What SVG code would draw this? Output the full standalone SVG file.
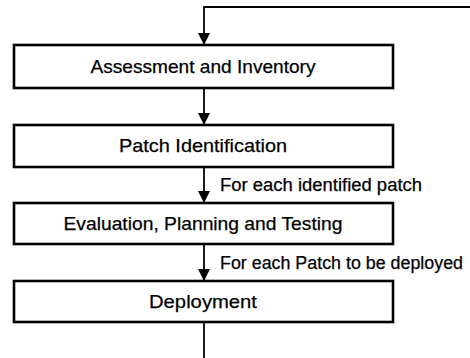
<svg xmlns="http://www.w3.org/2000/svg" width="470" height="358" viewBox="0 0 470 358">
<style>
.box{fill:#fff;stroke:#000;stroke-width:2.6}
.lbl{font-family:"Liberation Sans",Arial,sans-serif;font-size:19px;fill:#000;stroke:#000;stroke-width:0.25;text-anchor:middle}
.edge{font-family:"Liberation Sans",Arial,sans-serif;font-size:17.5px;fill:#000;stroke:#000;stroke-width:0.25}
.con{fill:none;stroke:#000;stroke-width:1.8}
</style>
<defs>
<marker id="arr" markerUnits="userSpaceOnUse" markerWidth="12" markerHeight="12" refX="12" refY="6" orient="auto">
<path d="M0,0 L12,6 L0,12 Z" fill="#000"/>
</marker>
</defs>
<g id="connectors">
<path class="con" d="M470,7 H204 V45" marker-end="url(#arr)"/>
<path class="con" d="M204,88 V125" marker-end="url(#arr)"/>
<path class="con" d="M204,167 V203" marker-end="url(#arr)"/>
<path class="con" d="M204,244 V281" marker-end="url(#arr)"/>
<path class="con" d="M204,322 V358"/>
<text class="edge" x="220" y="191" textLength="202" lengthAdjust="spacingAndGlyphs">For each identified  patch</text>
<text class="edge" x="220" y="269" textLength="243" lengthAdjust="spacingAndGlyphs">For each Patch to be deployed</text>
</g>
<g id="assessment">
<rect class="box" x="14" y="45" width="379" height="43"/>
<text class="lbl" x="203" y="73" textLength="225" lengthAdjust="spacingAndGlyphs">Assessment and Inventory</text>
</g>
<g id="identification">
<rect class="box" x="14" y="125" width="379" height="42"/>
<text class="lbl" x="203" y="152" textLength="168" lengthAdjust="spacingAndGlyphs">Patch Identification</text>
</g>
<g id="evaluation">
<rect class="box" x="14" y="203" width="379" height="41"/>
<text class="lbl" x="203" y="230" textLength="279" lengthAdjust="spacingAndGlyphs">Evaluation, Planning and Testing</text>
</g>
<g id="deployment">
<rect class="box" x="14" y="281" width="379" height="41"/>
<text class="lbl" x="203" y="308" textLength="108" lengthAdjust="spacingAndGlyphs">Deployment</text>
</g>
</svg>
